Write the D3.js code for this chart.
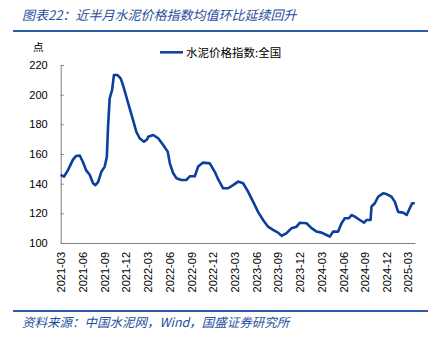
<!DOCTYPE html>
<html><head><meta charset="utf-8">
<script src="https://cdn.jsdelivr.net/npm/d3@7"></script>
<style>
html,body{margin:0;padding:0;background:#fff;}
svg{display:block;}
</style></head>
<body>
<svg id="c" width="440" height="342"></svg>
<script>
const dates = ["2021-03-01","2021-03-15","2021-03-31","2021-04-21","2021-05-05","2021-05-20","2021-06-02","2021-06-16","2021-07-01","2021-07-15","2021-07-25","2021-08-05","2021-08-19","2021-09-02","2021-09-11","2021-09-16","2021-09-23","2021-10-03","2021-10-11","2021-10-25","2021-11-08","2021-11-18","2021-12-02","2021-12-16","2021-12-30","2022-01-13","2022-01-27","2022-02-14","2022-02-28","2022-03-04","2022-03-25","2022-04-15","2022-05-06","2022-05-25","2022-06-03","2022-06-17","2022-07-01","2022-07-22","2022-08-12","2022-08-26","2022-09-16","2022-09-30","2022-10-21","2022-11-18","2022-12-09","2022-12-23","2023-01-13","2023-02-03","2023-02-24","2023-03-17","2023-04-07","2023-04-28","2023-05-19","2023-06-09","2023-06-30","2023-07-21","2023-08-11","2023-09-01","2023-09-16","2023-10-07","2023-10-28","2023-11-18","2023-12-02","2023-12-30","2024-01-20","2024-02-10","2024-03-02","2024-03-23","2024-04-06","2024-04-20","2024-05-11","2024-05-25","2024-06-08","2024-06-25","2024-07-06","2024-07-20","2024-08-10","2024-08-28","2024-09-07","2024-09-24","2024-09-28","2024-10-12","2024-10-26","2024-11-16","2024-11-30","2024-12-21","2025-01-04","2025-01-18","2025-02-08","2025-02-23","2025-03-08","2025-03-18","2025-03-29"];
const values = [145.9,144.7,149,156,158.7,159,154.8,149,146,140.3,139,141,148,151.5,158,178,197.5,203,213.3,213.3,211,206.5,198.6,190.8,183,175,170.6,168.3,170,171.7,172.8,170.6,166,161.6,153.7,147,143.6,142.5,142.5,145,145,151.5,154.2,153.7,148,143,136.9,136.9,139,141.4,140.3,134.6,127.9,121,115.5,111,108.8,107,104.8,106.6,110,111,113.7,113.3,110,107.7,107,105.4,104.3,107.7,107.7,113.3,116.7,116.7,118.9,117.8,115.5,113.7,115.5,115.5,124.5,126.8,131.2,133.5,133,131.2,127.9,121,120.5,118.9,123.4,126.8,126.8];
const yTicks = [100,120,140,160,180,200,220];
const xTickLabels = ["2021-03","2021-06","2021-09","2021-12","2022-03","2022-06","2022-09","2022-12","2023-03","2023-06","2023-09","2023-12","2024-03","2024-06","2024-09","2024-12","2025-03"];
const seriesName = "水泥价格指数:全国";
const title = "图表22：近半月水泥价格指数均值环比延续回升";
const source = "资料来源：中国水泥网，Wind，国盛证券研究所";
const unit = "点";

const parse = d3.timeParse("%Y-%m-%d");
const data = dates.map((d,i)=>({date:parse(d), value:values[i]}));
const svg = d3.select("#c");
const blue = "#1f4e9c";
const lineColor = "#0a3f9b";
const cjk = "'Noto Sans CJK SC','Noto Sans',sans-serif";

// title
svg.append("text").attr("x",22).attr("y",20).attr("fill",blue)
  .attr("font-family",cjk).attr("font-size",13).attr("font-style","italic").text(title);
svg.append("line").attr("x1",13).attr("x2",428).attr("y1",31).attr("y2",31)
  .attr("stroke","#2a5ca8").attr("stroke-width",2);

// footer
svg.append("line").attr("x1",13).attr("x2",428).attr("y1",311).attr("y2",311)
  .attr("stroke","#2a5ca8").attr("stroke-width",2);
svg.append("text").attr("x",22).attr("y",327).attr("fill",blue)
  .attr("font-family",cjk).attr("font-size",12.5).attr("font-style","italic").text(source);

const x = d3.scaleTime().domain([parse("2021-03-01"), parse("2025-03-30")]).range([60.7, 415]);
const y = d3.scaleLinear().domain([100,220]).range([243,65]);

// y axis
const ya = svg.append("g").attr("transform","translate(60.7,0)")
  .call(d3.axisLeft(y).tickValues(yTicks).tickSize(-3).tickPadding(13).tickFormat(d3.format("d")));
ya.selectAll("text").attr("font-family","'Liberation Sans',Arial,sans-serif").attr("font-size",11).attr("fill","#000");
ya.selectAll("line,path").attr("stroke","#808080");

// x axis
const tickDates = xTickLabels.map(s=>parse(s+"-01"));
const xa = svg.append("g").attr("transform","translate(0,243)")
  .call(d3.axisBottom(x).tickValues(tickDates).tickSize(0).tickFormat(d3.timeFormat("%Y-%m")));
xa.selectAll("path").attr("stroke","#808080");
xa.selectAll("text").attr("font-family","'Liberation Sans',Arial,sans-serif").attr("font-size",11).attr("fill","#000")
  .attr("transform","rotate(-90)").attr("text-anchor","end").attr("x",-9).attr("y",0).attr("dy","0.35em");

// unit
svg.append("text").attr("x",33).attr("y",51).attr("font-family",cjk).attr("font-size",10.5).attr("fill","#000").text(unit);

// legend
svg.append("line").attr("x1",160).attr("x2",183).attr("y1",52.3).attr("y2",52.3).attr("stroke",lineColor).attr("stroke-width",2.5);
svg.append("text").attr("x",186).attr("y",56.5).attr("font-family",cjk).attr("font-size",11.5).attr("fill","#000").text(seriesName);

// line
svg.append("path").datum(data)
  .attr("fill","none").attr("stroke",lineColor).attr("stroke-width",2.6).attr("stroke-linejoin","round")
  .attr("d", d3.line().x(d=>x(d.date)).y(d=>y(d.value)));
</script>
</body></html>
